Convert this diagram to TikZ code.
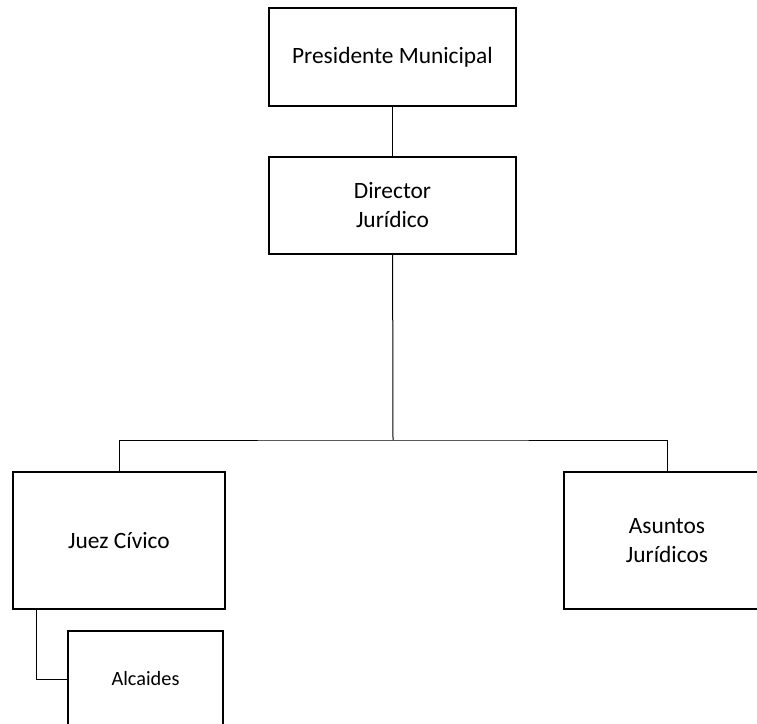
\documentclass[tikz,border=0pt]{standalone}
\usepackage{fontspec}
\setmainfont{Carlito}
\usetikzlibrary{positioning}

\begin{document}
\begin{tikzpicture}[
    x=1pt, y=-1pt,
    cargo/.style={draw, line width=2pt, align=center, inner sep=0pt,
      font=\fontsize{23.4}{29}\selectfont},
    enlace/.style={draw, line width=1pt}
    ]

    \useasboundingbox (0,0) rectangle (757,723);
    \clip (0,0) rectangle (757,723);

    \node[cargo, minimum width=247pt, minimum height=98pt] (pres) at (392.5,57) {Presidente Municipal};
    \node[cargo, minimum width=247pt, minimum height=97pt] (dir) at (392.5,205.5) {Director\\Jurídico};
    \node[cargo, minimum width=212pt, minimum height=137pt] (juez) at (119,540.5) {Juez Cívico};
    \node[cargo, minimum width=206pt, minimum height=137pt] (asun) at (667,540.5) {Asuntos\\Jurídicos};
    \node[cargo, minimum width=155pt, minimum height=96pt, font=\fontsize{20.3}{25}\selectfont] (alc) at (145.5,679) {Alcaides};
    \coordinate (bar) at (393,440);

    \path (pres) edge[enlace] (dir)
    (dir) edge[enlace] (bar)
    ;
    \draw[enlace] (juez.north) |- (bar) -| (asun.north);
    \draw[enlace] ([xshift=24pt]juez.south west) |- (alc.west);

  \end{tikzpicture}
\end{document}
